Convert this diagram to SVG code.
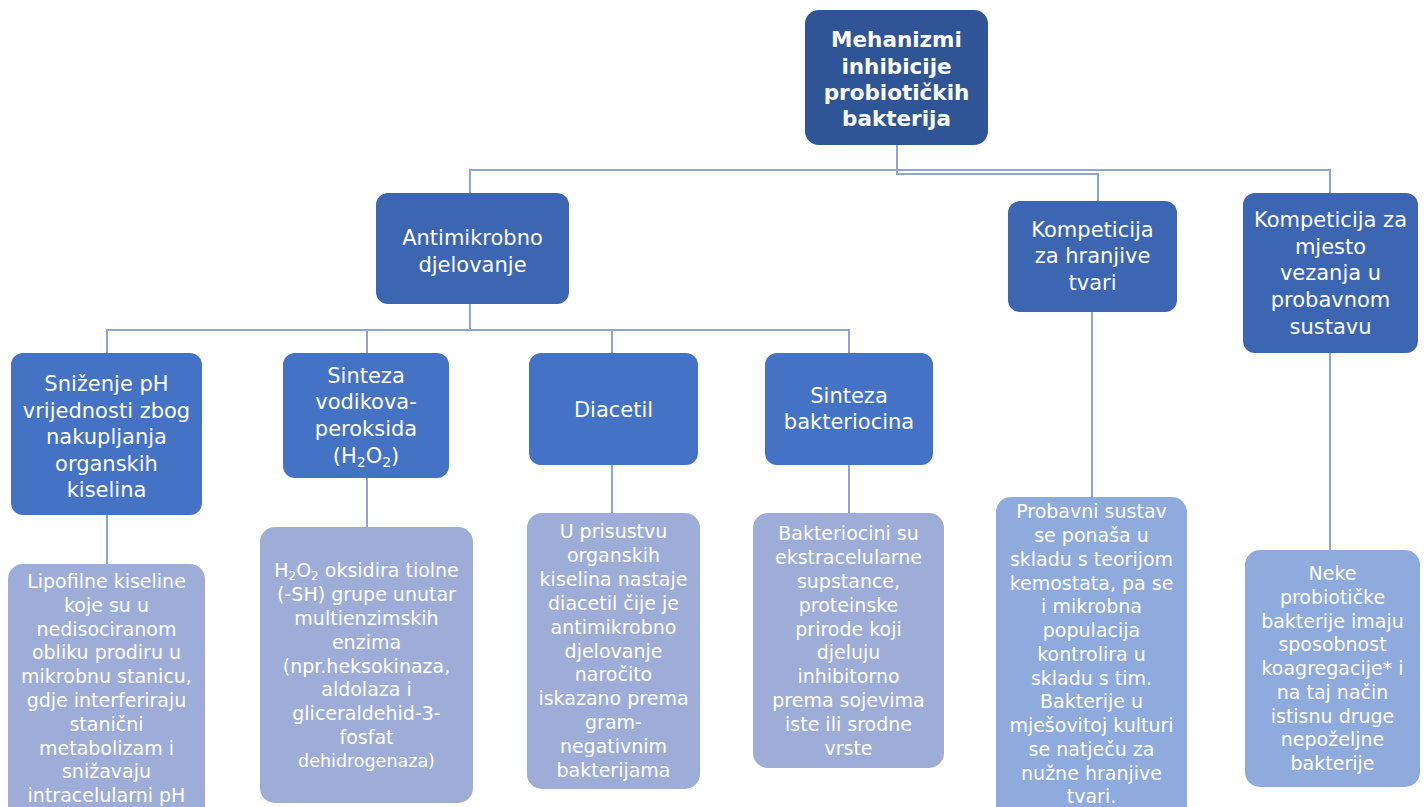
<svg xmlns="http://www.w3.org/2000/svg" width="1428" height="807" viewBox="0 0 1428 807">
<style>
.root{fill:#2F5597}
.l2{fill:#3D66B2}
.l3{fill:#4472C4}
.lf{fill:#9EADD8}
.lf2{fill:#8FAADC}
.t{font-family:"DejaVu Sans",Verdana,sans-serif;fill:#fff;text-anchor:middle}
.big{font-size:21px}
.sm{font-size:19px}
.rt{font-family:"DejaVu Sans",Verdana,sans-serif;font-weight:bold;font-size:21.5px;fill:#fff;text-anchor:middle}
.c{fill:none;stroke:#8EA4D6;stroke-width:2}
</style>
<rect width="1428" height="807" fill="#fff"/>
<g id="connectors">
<path class="c" d="M897 145 V170 M470 193 V170 H1330 V193"/>
<path class="c" d="M897 170 V174 H1098 V201"/>
<path class="c" d="M470 304 V330 M107 353 V330 H849 V353 M367 330 V353 M612 330 V353"/>
<path class="c" d="M107 515 V564 M367 478 V527 M612 465 V513 M849 465 V513 M1092 312 V497 M1330 353 V550"/>
</g>
<g id="root">
<rect class="root" x="805" y="10" width="183" height="135" rx="14"/>
<text class="rt"><tspan x="896.5" y="47">Mehanizmi</tspan><tspan x="896.5" y="74">inhibicije</tspan><tspan x="896.5" y="100">probiotičkih</tspan><tspan x="896.5" y="126">bakterija</tspan></text>
</g>
<g id="antimikrobno">
<rect class="l2" x="376" y="193" width="193" height="111" rx="12"/>
<text class="t big"><tspan x="472.5" y="245">Antimikrobno</tspan><tspan x="472.5" y="272">djelovanje</tspan></text>
</g>
<g id="kompeticija-hranjive">
<rect class="l2" x="1008" y="201" width="169" height="111" rx="12"/>
<text class="t big"><tspan x="1092.5" y="237">Kompeticija</tspan><tspan x="1092.5" y="263">za hranjive</tspan><tspan x="1092.5" y="290">tvari</tspan></text>
</g>
<g id="kompeticija-mjesto">
<rect class="l2" x="1243" y="193" width="175" height="160" rx="12"/>
<text class="t big"><tspan x="1330.5" y="227">Kompeticija za</tspan><tspan x="1330.5" y="254">mjesto</tspan><tspan x="1330.5" y="280">vezanja u</tspan><tspan x="1330.5" y="307">probavnom</tspan><tspan x="1330.5" y="334">sustavu</tspan></text>
</g>
<g id="snizenje-ph">
<rect class="l3" x="11" y="353" width="191" height="162" rx="12"/>
<text class="t big"><tspan x="106.5" y="391">Sniženje pH</tspan><tspan x="106.5" y="418">vrijednosti zbog</tspan><tspan x="106.5" y="444">nakupljanja</tspan><tspan x="106.5" y="471">organskih</tspan><tspan x="106.5" y="497">kiselina</tspan></text>
</g>
<g id="sinteza-h2o2">
<rect class="l3" x="283" y="353" width="166" height="125" rx="12"/>
<text class="t big"><tspan x="366" y="383">Sinteza</tspan><tspan x="366" y="409">vodikova-</tspan><tspan x="366" y="436">peroksida</tspan><tspan x="366" y="463">(H<tspan font-size="14" dy="4">2</tspan><tspan dy="-4">O</tspan><tspan font-size="14" dy="4">2</tspan><tspan dy="-4">)</tspan></tspan></text>
</g>
<g id="diacetil">
<rect class="l3" x="529" y="353" width="169" height="112" rx="12"/>
<text class="t big" x="613.5" y="417">Diacetil</text>
</g>
<g id="sinteza-bakteriocina">
<rect class="l3" x="765" y="353" width="168" height="112" rx="12"/>
<text class="t big"><tspan x="849" y="403">Sinteza</tspan><tspan x="849" y="429">bakteriocina</tspan></text>
</g>
<g id="lipofilne">
<rect class="lf" x="8" y="564" width="197" height="260" rx="15"/>
<text class="t sm"><tspan x="106.5" y="588">Lipofilne kiseline</tspan><tspan x="106.5" y="612">koje su u</tspan><tspan x="106.5" y="636">nedisociranom</tspan><tspan x="106.5" y="659">obliku prodiru u</tspan><tspan x="106.5" y="683">mikrobnu stanicu,</tspan><tspan x="106.5" y="707">gdje interferiraju</tspan><tspan x="106.5" y="731">stanični</tspan><tspan x="106.5" y="755">metabolizam i</tspan><tspan x="106.5" y="778">snižavaju</tspan><tspan x="106.5" y="802">intracelularni pH</tspan></text>
</g>
<g id="h2o2-oksidira">
<rect class="lf" x="260" y="527" width="213" height="276" rx="15"/>
<text class="t sm"><tspan x="366.5" y="577">H<tspan font-size="12" dy="3">2</tspan><tspan dy="-3">O</tspan><tspan font-size="12" dy="3">2</tspan><tspan dy="-3"> oksidira tiolne</tspan></tspan><tspan x="366.5" y="601">(-SH) grupe unutar</tspan><tspan x="366.5" y="625">multienzimskih</tspan><tspan x="366.5" y="649">enzima</tspan><tspan x="366.5" y="673">(npr.heksokinaza,</tspan><tspan x="366.5" y="696">aldolaza i</tspan><tspan x="366.5" y="720">gliceraldehid-3-</tspan><tspan x="366.5" y="744">fosfat</tspan><tspan x="366.5" y="767" font-size="17.5">dehidrogenaza)</tspan></text>
</g>
<g id="u-prisustvu">
<rect class="lf" x="527" y="513" width="173" height="276" rx="15"/>
<text class="t sm"><tspan x="613.5" y="538">U prisustvu</tspan><tspan x="613.5" y="562">organskih</tspan><tspan x="613.5" y="586">kiselina nastaje</tspan><tspan x="613.5" y="610">diacetil čije je</tspan><tspan x="613.5" y="634">antimikrobno</tspan><tspan x="613.5" y="658">djelovanje</tspan><tspan x="613.5" y="681">naročito</tspan><tspan x="613.5" y="705">iskazano prema</tspan><tspan x="613.5" y="729">gram-</tspan><tspan x="613.5" y="753">negativnim</tspan><tspan x="613.5" y="777">bakterijama</tspan></text>
</g>
<g id="bakteriocini">
<rect class="lf" x="753" y="513" width="191" height="255" rx="15"/>
<text class="t sm"><tspan x="848.5" y="540">Bakteriocini su</tspan><tspan x="848.5" y="564">ekstracelularne</tspan><tspan x="848.5" y="588">supstance,</tspan><tspan x="848.5" y="612">proteinske</tspan><tspan x="848.5" y="636">prirode koji</tspan><tspan x="848.5" y="659">djeluju</tspan><tspan x="848.5" y="683">inhibitorno</tspan><tspan x="848.5" y="707">prema sojevima</tspan><tspan x="848.5" y="731">iste ili srodne</tspan><tspan x="848.5" y="755">vrste</tspan></text>
</g>
<g id="probavni">
<rect class="lf2" x="996" y="497" width="191" height="330" rx="15"/>
<text class="t sm"><tspan x="1091.5" y="518">Probavni sustav</tspan><tspan x="1091.5" y="542">se ponaša u</tspan><tspan x="1091.5" y="566">skladu s teorijom</tspan><tspan x="1091.5" y="590">kemostata, pa se</tspan><tspan x="1091.5" y="613">i mikrobna</tspan><tspan x="1091.5" y="637">populacija</tspan><tspan x="1091.5" y="661">kontrolira u</tspan><tspan x="1091.5" y="685">skladu s tim.</tspan><tspan x="1091.5" y="708">Bakterije u</tspan><tspan x="1091.5" y="732">mješovitoj kulturi</tspan><tspan x="1091.5" y="756">se natječu za</tspan><tspan x="1091.5" y="780">nužne hranjive</tspan><tspan x="1091.5" y="803">tvari.</tspan></text>
</g>
<g id="neke">
<rect class="lf2" x="1245" y="550" width="175" height="237" rx="15"/>
<text class="t sm"><tspan x="1332.5" y="580">Neke</tspan><tspan x="1332.5" y="604">probiotičke</tspan><tspan x="1332.5" y="628">bakterije imaju</tspan><tspan x="1332.5" y="651">sposobnost</tspan><tspan x="1332.5" y="675">koagregacije* i</tspan><tspan x="1332.5" y="699">na taj način</tspan><tspan x="1332.5" y="723">istisnu druge</tspan><tspan x="1332.5" y="746">nepoželjne</tspan><tspan x="1332.5" y="770">bakterije</tspan></text>
</g>
</svg>
